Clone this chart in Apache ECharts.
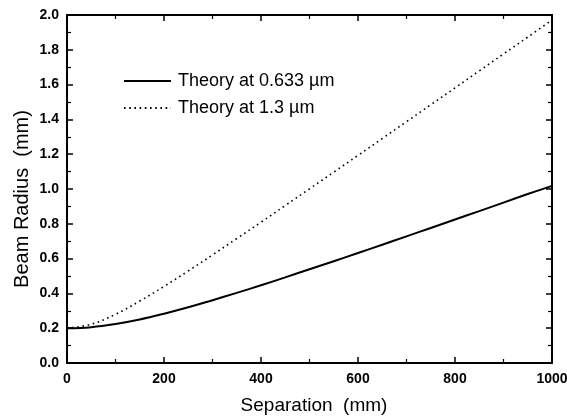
<!DOCTYPE html>
<html>
<head>
<meta charset="utf-8">
<script src="https://cdn.jsdelivr.net/npm/echarts@6/dist/echarts.min.js"></script>
<style>
html,body{margin:0;padding:0;background:#fff;}
#c{width:567px;height:417px;}
</style>
</head>
<body>
<div id="c"></div>
<script>
// Separation (mm)
const separation = [0, 50, 100, 150, 200, 250, 300, 350, 400, 450, 500, 550, 600, 650, 700, 750, 800, 850, 900, 950, 1000];
// Beam radius (mm), theory at 0.633 um
const radius0633 = [0.200, 0.206, 0.224, 0.250, 0.283, 0.320, 0.361, 0.403, 0.447, 0.492, 0.539, 0.585, 0.632, 0.680, 0.728, 0.776, 0.825, 0.873, 0.922, 0.971, 1.018];
// Beam radius (mm), theory at 1.3 um
const radius13 = [0.200, 0.223, 0.280, 0.356, 0.440, 0.529, 0.621, 0.715, 0.809, 0.905, 1.001, 1.097, 1.193, 1.290, 1.387, 1.484, 1.581, 1.679, 1.776, 1.873, 1.971];
const seriesNames = ['Theory at 0.633 \u00b5m', 'Theory at 1.3 \u00b5m'];
const xTickLabels = ['0', '200', '400', '600', '800', '1000'];
const yTickLabels = ['0.0', '0.2', '0.4', '0.6', '0.8', '1.0', '1.2', '1.4', '1.6', '1.8', '2.0'];

const FONT = 'Liberation Sans, Arial, Helvetica, sans-serif';
const chart = echarts.init(document.getElementById('c'), null, {renderer: 'canvas'});

function axisCommon(show) {
  return {
    axisLine: {show: true, onZero: false, lineStyle: {color: '#000', width: 2}},
    axisTick: {show: true, inside: true, length: 6, lineStyle: {color: '#000', width: 1.5}},
    minorTick: {show: true, splitNumber: 2, length: 4, lineStyle: {color: '#000', width: 1.2}},
    splitLine: {show: false},
    minorSplitLine: {show: false},
    axisLabel: {show: show}
  };
}

const option = {
  animation: false,
  backgroundColor: '#fff',
  grid: {left: 67, right: 15, top: 15, bottom: 54, containLabel: false, outerBoundsMode: 'none'},
  legend: {
    orient: 'vertical',
    left: 123,
    top: 72,
    padding: 0,
    itemWidth: 47,
    itemHeight: 18,
    itemGap: 9,
    itemStyle: {opacity: 0},
    textStyle: {fontFamily: FONT, fontSize: 18, color: '#000', padding: [0, 0, 0, 2]},
    data: seriesNames
  },
  xAxis: [
    Object.assign(axisCommon(true), {
      type: 'value', position: 'bottom', min: 0, max: 1000, interval: 200,
      name: 'Separation  (mm)', nameLocation: 'middle', nameGap: 33, nameMoveOverlap: false,
      nameTextStyle: {fontFamily: FONT, fontSize: 19, color: '#000', padding: [0, 0, 0, 9]},
      axisLabel: {show: true, margin: 9, fontFamily: FONT, fontSize: 14, fontWeight: 'bold', color: '#000',
        formatter: function (v) { return xTickLabels[Math.round(v / 200)]; }}
    }),
    Object.assign(axisCommon(false), {
      type: 'value', position: 'top', min: 0, max: 1000, interval: 200
    })
  ],
  yAxis: [
    Object.assign(axisCommon(true), {
      type: 'value', position: 'left', min: 0, max: 2, interval: 0.2,
      name: 'Beam Radius  (mm)', nameLocation: 'middle', nameGap: 35, nameMoveOverlap: false,
      nameTextStyle: {fontFamily: FONT, fontSize: 20, color: '#000', padding: [0, 20, 0, 0]},
      axisLabel: {show: true, margin: 8, fontFamily: FONT, fontSize: 14, fontWeight: 'bold', color: '#000',
        formatter: function (v) { return yTickLabels[Math.round(v / 0.2)]; }}
    }),
    Object.assign(axisCommon(false), {
      type: 'value', position: 'right', min: 0, max: 2, interval: 0.2
    })
  ],
  series: [
    {
      name: seriesNames[0], type: 'line', xAxisIndex: 0, yAxisIndex: 0,
      showSymbol: false, symbol: 'none', smooth: 0.4,
      lineStyle: {color: '#000', width: 2, type: 'solid'},
      itemStyle: {color: '#000'},
      data: separation.map((x, i) => [x, radius0633[i]])
    },
    {
      name: seriesNames[1], type: 'line', xAxisIndex: 0, yAxisIndex: 0,
      showSymbol: false, symbol: 'none', smooth: 0.4,
      lineStyle: {color: '#000', width: 1.6, type: [1.6, 3.6]},
      itemStyle: {color: '#000'},
      data: separation.map((x, i) => [x, radius13[i]])
    }
  ]
};
chart.setOption(option);
</script>
</body>
</html>
